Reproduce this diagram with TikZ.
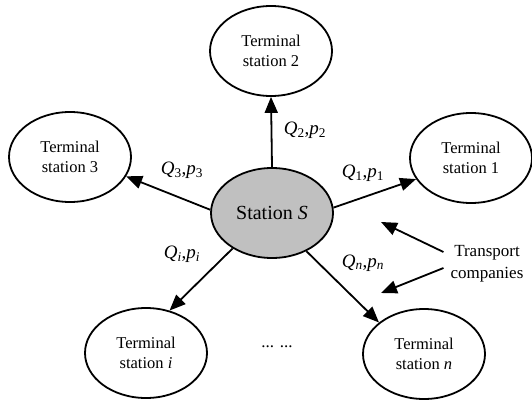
\documentclass[tikz,border=0pt]{standalone}
\usepackage{fontspec}
\setmainfont{Liberation Serif}
\usetikzlibrary{shapes.geometric,arrows.meta}
\definecolor{sgray}{RGB}{192,192,192}
\newcommand{\qplab}[2]{\textit{Q}\textsubscript{#1},\textit{p}\textsubscript{#2}}
\begin{document}
\begin{tikzpicture}[x=1pt,y=-1pt,
  term/.style={ellipse,draw,line width=1.8pt,minimum width=122pt,minimum height=90pt,
    inner sep=0pt,align=center,font=\fontsize{16.5}{20}\selectfont},
  hub/.style={term,fill=sgray,font=\fontsize{20}{22}\selectfont},
  lab/.style={inner sep=0pt,font=\fontsize{19}{22}\selectfont},
  arr/.style={line width=1.8pt,-{Triangle[length=16pt,width=13pt]}},
  note/.style={inner sep=2pt,align=center,font=\fontsize{17}{22}\selectfont}]
\useasboundingbox (0,0) rectangle (532,401);

\node[hub]  (S)  at (272,213) {Station \textit{S}};
\node[term] (T2) at (271,51)  {Terminal\\station 2};
\node[term] (T3) at (70,157)  {Terminal\\station 3};
\node[term] (T1) at (471,158) {Terminal\\station 1};
\node[term] (Ti) at (146,353) {Terminal\\station \textit{i}};
\node[term] (Tn) at (424,354) {Terminal\\station \textit{n}};

\node[lab] (l2) at (305,130) {\qplab{2}{2}};
\node[lab] (l3) at (182,170) {\qplab{3}{3}};
\node[lab] (l1) at (363,173) {\qplab{1}{1}};
\node[lab] (li) at (182,254) {\qplab{\textit{i}}{\textit{i}}};
\node[lab] (ln) at (363,263) {\qplab{\textit{n}}{\textit{n}}};

\node[note] (dots) at (277,347) {... ...};
\node[note] (tc) at (487,264) {Transport\\companies};

\coordinate (c1) at (381,222);
\coordinate (c2) at (381,293);

\draw[arr] (S.north) -- (T2.south);
\draw[arr] (S.177) -- (T3.-19);
\draw[arr] (S.5) -- (T1.-159);
\draw[arr] (S.-138) -- (Ti.61);
\draw[arr] (S.-48) -- (Tn.145);
\draw[arr] ([xshift=-5pt,yshift=12pt]tc.west) -- (c1);
\draw[arr] ([xshift=-5pt,yshift=-4pt]tc.west) -- (c2);
\end{tikzpicture}
\end{document}
